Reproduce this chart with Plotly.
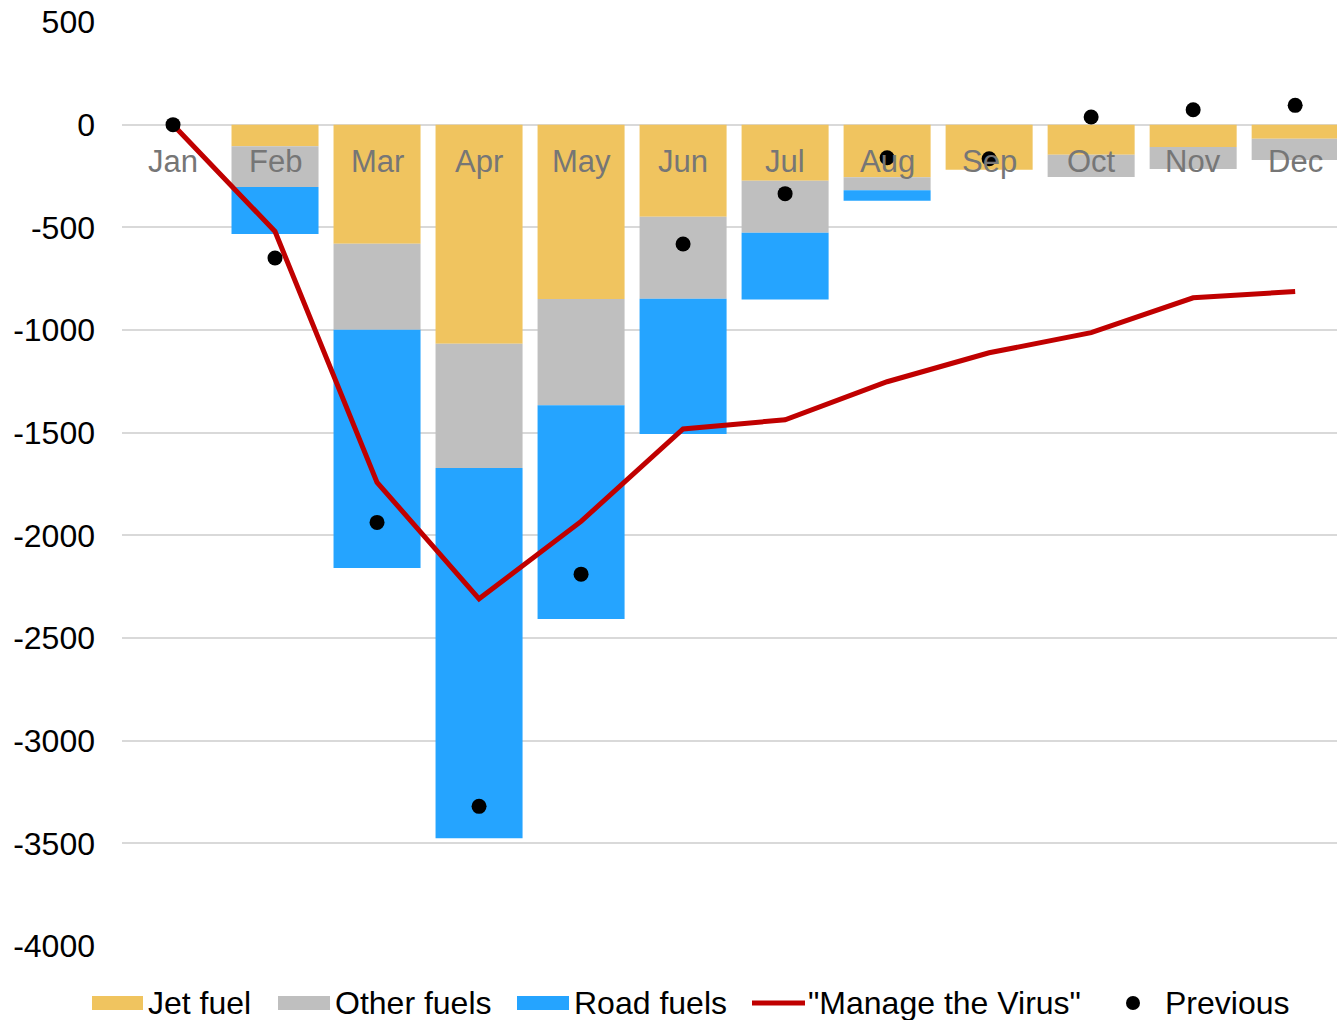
import plotly.graph_objects as go

# Monthly change in fuel demand, stacked by fuel type
months = ["Jan", "Feb", "Mar", "Apr", "May", "Jun",
          "Jul", "Aug", "Sep", "Oct", "Nov", "Dec"]
jet_fuel = [0, -105, -580, -1067, -849, -448, -273, -256, -219, -146, -109, -68]
other_fuels = [0, -198, -419, -605, -518, -400, -253, -64, 0, -109, -107, -104]
road_fuels = [0, -229, -1160, -1803, -1041, -659, -326, -50, 0, 0, 0, 0]
manage_the_virus = [0, -520, -1742, -2309, -1932, -1482, -1437, -1252, -1111, -1013, -843, -813]
previous = [0, -649, -1937, -3320, -2189, -581, -336, -161, -166, 37, 73, 94]
y_ticks = [500, 0, -500, -1000, -1500, -2000, -2500, -3000, -3500, -4000]

JET = "#F0C45F"
OTHER = "#BFBFBF"
ROAD = "#25A4FF"
RED = "#C00000"
FONT = "Liberation Sans, Arial, sans-serif"

W, H = 1337, 1020
ML, MR, MT, MB = 122, 0, 22, 74
PW, PH = W - ML - MR, H - MT - MB


def px(x):
    return (x - ML) / PW


def py(y):
    return (H - MB - y) / PH


fig = go.Figure()
for name, vals, col in [("Jet fuel", jet_fuel, JET),
                        ("Other fuels", other_fuels, OTHER),
                        ("Road fuels", road_fuels, ROAD)]:
    fig.add_trace(go.Bar(x=months, y=vals, name=name, marker_color=col,
                         marker_line_width=0, showlegend=False))

fig.add_trace(go.Scatter(x=months, y=manage_the_virus, mode="lines",
                         name='"Manage the Virus"',
                         line=dict(color=RED, width=5), showlegend=False))
fig.add_trace(go.Scatter(x=months, y=previous, mode="markers", name="Previous",
                         marker=dict(color="black", size=15), showlegend=False))

annotations = []
# category labels sit just under the zero line
for m in months:
    annotations.append(dict(x=m, y=0, xref="x", yref="y", text=m,
                            showarrow=False, yanchor="middle", yshift=-37,
                            font=dict(family=FONT, size=31, color="#767676")))

# legend row along the bottom
shapes = []
leg_y = 1003
for x0, x1, col in [(92, 143, JET), (278, 330, OTHER), (517, 569, ROAD)]:
    shapes.append(dict(type="rect", xref="paper", yref="paper",
                       x0=px(x0), x1=px(x1), y0=py(leg_y + 7), y1=py(leg_y - 7),
                       fillcolor=col, line_width=0))
shapes.append(dict(type="line", xref="paper", yref="paper",
                   x0=px(752), x1=px(805), y0=py(leg_y), y1=py(leg_y),
                   line=dict(color=RED, width=5)))
shapes.append(dict(type="circle", xref="paper", yref="paper",
                   x0=px(1126), x1=px(1140), y0=py(leg_y + 7), y1=py(leg_y - 7),
                   fillcolor="black", line_width=0))
for x0, txt in [(148, "Jet fuel"), (335, "Other fuels"), (574, "Road fuels"),
                (808, '"Manage the Virus"'), (1165, "Previous")]:
    annotations.append(dict(x=px(x0), y=py(leg_y), xref="paper", yref="paper",
                            text=txt, showarrow=False, xanchor="left",
                            yanchor="middle", xshift=-2,
                            font=dict(family=FONT, size=32, color="black")))

fig.update_layout(
    width=W, height=H,
    margin=dict(l=ML, r=MR, t=MT, b=MB),
    barmode="relative", bargap=0.147,
    plot_bgcolor="white", paper_bgcolor="white",
    font=dict(family=FONT, size=32, color="black"),
    showlegend=False,
    annotations=annotations, shapes=shapes,
    xaxis=dict(range=[-0.5, 11.41], showticklabels=False, showgrid=False,
               zeroline=False, showline=False, fixedrange=True),
    yaxis=dict(range=[-4000, 500], tickvals=y_ticks,
               ticktext=[str(v) for v in y_ticks],
               showgrid=True, gridcolor="#D9D9D9", gridwidth=2,
               zeroline=False, showline=False, ticks="",
               ticklabelstandoff=26,
               tickfont=dict(family=FONT, size=32, color="black")),
)

fig.write_html("out.html")
